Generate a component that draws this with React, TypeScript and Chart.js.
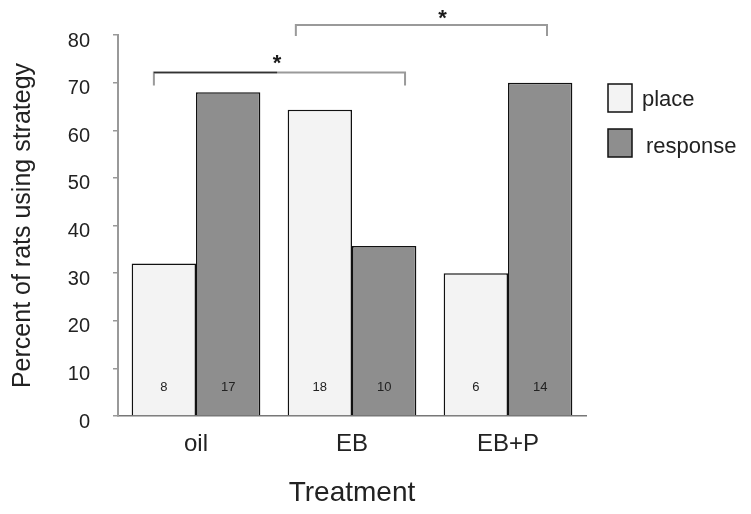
import { useEffect, useRef } from 'react';
import { Chart, registerables } from 'chart.js';

Chart.register(...registerables);

const categories = ['oil', 'EB', 'EB+P'];
const seriesNames = ['place', 'response'];
const placeValues = [32, 64.3, 30];
const responseValues = [68, 35.7, 70];
const placeCounts = ['8', '18', '6'];
const responseCounts = ['17', '10', '14'];
const yMin = 0;
const yMax = 80;
const yStep = 10;
const xTitle = 'Treatment';
const yTitle = 'Percent of rats using strategy';
const sigMark = '*';

// significance brackets, in category-index units (x) and data units (y)
const brackets = [
  { from: -0.27, to: 1.34, y: 72.1, leg: 69.4, starX: 0.52, starY: 74.2, darkTo: 0.52 },
  { from: 0.64, to: 2.25, y: 82.1, leg: 79.8, starX: 1.58, starY: 83.5, darkTo: null as number | null },
];

const FONT = "'Liberation Sans', Arial, sans-serif";
const TEXT = '#222';
const PLACE_FILL = '#f3f3f3';
const RESP_FILL = '#8e8e8e';

const overlayPlugin = {
  id: 'overlay',
  afterDraw(chart: any) {
    const ctx = chart.ctx;
    const xs = chart.scales.x;
    const ys = chart.scales.y;
    ctx.save();

    // counts inside bars
    ctx.font = `13px ${FONT}`;
    ctx.fillStyle = TEXT;
    ctx.textAlign = 'center';
    ctx.textBaseline = 'middle';
    const countSets = [placeCounts, responseCounts];
    countSets.forEach((counts, di) => {
      const meta = chart.getDatasetMeta(di);
      meta.data.forEach((bar: any, i: number) => {
        ctx.fillText(counts[i], bar.x, ys.getPixelForValue(6));
      });
    });

    // brackets
    brackets.forEach((b) => {
      const x1 = xs.getPixelForValue(b.from);
      const x2 = xs.getPixelForValue(b.to);
      const y = ys.getPixelForValue(b.y);
      const yl = ys.getPixelForValue(b.leg);
      ctx.lineWidth = 2;
      ctx.strokeStyle = '#9a9a9a';
      ctx.beginPath();
      ctx.moveTo(x1, yl);
      ctx.lineTo(x1, y);
      ctx.lineTo(x2, y);
      ctx.lineTo(x2, yl);
      ctx.stroke();
      if (b.darkTo !== null) {
        ctx.strokeStyle = '#333';
        ctx.lineWidth = 1.5;
        ctx.beginPath();
        ctx.moveTo(x1, y);
        ctx.lineTo(xs.getPixelForValue(b.darkTo), y);
        ctx.stroke();
      }
      ctx.fillStyle = '#1a1a1a';
      ctx.font = `bold 22px ${FONT}`;
      ctx.textAlign = 'center';
      ctx.textBaseline = 'alphabetic';
      ctx.fillText(sigMark, xs.getPixelForValue(b.starX), ys.getPixelForValue(b.starY) + 7);
    });

    // legend
    const fills = [PLACE_FILL, RESP_FILL];
    const boxTops = [84, 129];
    const textX = [642, 646];
    const baselines = [106, 153];
    seriesNames.forEach((name, i) => {
      ctx.fillStyle = fills[i];
      ctx.fillRect(608, boxTops[i], 24, 28);
      ctx.strokeStyle = '#111';
      ctx.lineWidth = 1.5;
      ctx.strokeRect(608, boxTops[i], 24, 28);
      ctx.fillStyle = TEXT;
      ctx.font = `22px ${FONT}`;
      ctx.textAlign = 'left';
      ctx.textBaseline = 'alphabetic';
      ctx.fillText(name, textX[i], baselines[i]);
    });

    ctx.restore();
  },
};

export default function App() {
  const ref = useRef<HTMLCanvasElement | null>(null);

  useEffect(() => {
    if (!ref.current) return;
    const chart = new Chart(ref.current, {
      type: 'bar',
      data: {
        labels: categories,
        datasets: [
          {
            label: seriesNames[0],
            data: placeValues,
            backgroundColor: PLACE_FILL,
            borderColor: '#111',
            borderWidth: 1.5,
            categoryPercentage: 0.825,
            barPercentage: 1,
          },
          {
            label: seriesNames[1],
            data: responseValues,
            backgroundColor: RESP_FILL,
            borderColor: '#111',
            borderWidth: 1.5,
            categoryPercentage: 0.825,
            barPercentage: 1,
          },
        ],
      },
      options: {
        responsive: false,
        animation: false,
        devicePixelRatio: 1,
        layout: { padding: { top: 32, right: 165, left: 0, bottom: 0 } },
        plugins: {
          legend: { display: false },
          tooltip: { enabled: false },
        },
        scales: {
          x: {
            offset: true,
            grid: { display: false, drawTicks: false },
            border: { display: true, color: '#777', width: 1.5 },
            ticks: {
              color: TEXT,
              font: { family: FONT, size: 24 },
              padding: 14,
            },
            title: {
              display: true,
              text: xTitle,
              color: TEXT,
              font: { family: FONT, size: 28 },
              padding: { top: 0, bottom: 4 },
            },
            afterFit: (s: any) => {
              s.height = 98;
            },
          },
          y: {
            min: yMin,
            max: yMax,
            grid: {
              display: true,
              drawOnChartArea: false,
              drawTicks: true,
              tickLength: 5,
              color: '#999',
              lineWidth: 1.5,
            },
            border: { display: true, color: '#999', width: 2 },
            ticks: {
              stepSize: yStep,
              color: TEXT,
              font: { family: FONT, size: 20 },
              padding: 23,
              labelOffset: 6,
            },
            title: {
              display: true,
              text: yTitle,
              color: TEXT,
              font: { family: FONT, size: 25 },
              padding: { top: 8, bottom: 0 },
            },
            afterFit: (s: any) => {
              s.width = 118;
            },
          },
        },
      },
      plugins: [overlayPlugin],
    } as any);
    return () => chart.destroy();
  }, []);

  return (
    <div style={{ position: 'absolute', left: 0, top: 0, width: 751, height: 514, background: '#fff' }}>
      <canvas ref={ref} width={751} height={514} style={{ display: 'block' }} />
    </div>
  );
}
